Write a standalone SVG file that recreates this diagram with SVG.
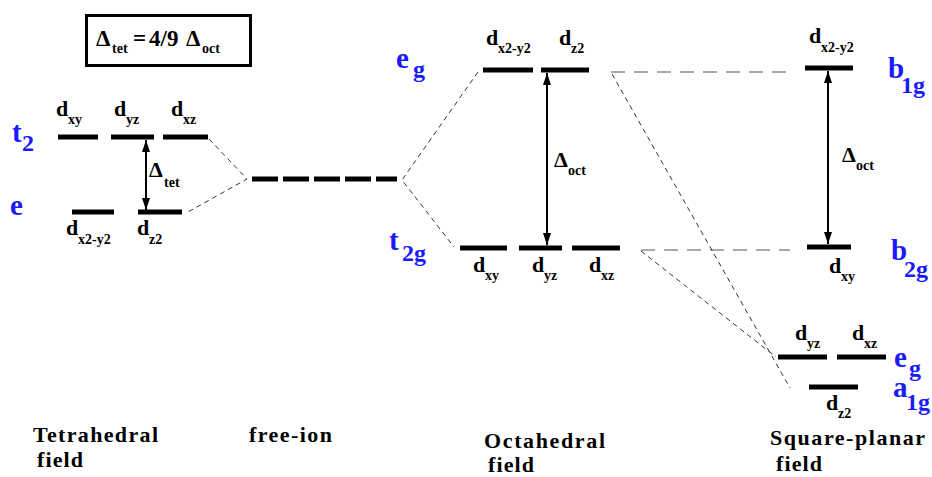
<svg xmlns="http://www.w3.org/2000/svg" width="932" height="477" viewBox="0 0 932 477" font-family="Liberation Serif, Times New Roman, serif" font-weight="bold">
<style>
.t{fill:#000}
.d{font-size:22px}
.s{font-size:14px}
.bl{fill:#1a1aff;font-size:29px}
.bs{font-size:24px}
.ttl{font-size:22px}
.bar{fill:#000}
.dl{stroke:#333;stroke-width:1;stroke-dasharray:5 4;fill:none}
.dl2{stroke:#555;stroke-width:1.2;stroke-dasharray:14 9;fill:none}
.arr{stroke:#000;stroke-width:2;fill:none;marker-start:url(#ah);marker-end:url(#ah)}
</style>
<defs>
<marker id="ah" viewBox="0 0 12 8" refX="12" refY="4" markerWidth="12" markerHeight="8" markerUnits="userSpaceOnUse" orient="auto-start-reverse">
<path d="M0,0 L12,4 L0,8 Z" fill="#000"/>
</marker>
</defs>
<rect width="932" height="477" fill="#fff"/>

<g id="formula-box">
<rect x="86.5" y="15.5" width="164" height="50" fill="none" stroke="#000" stroke-width="3"/>
<text class="t" font-size="23" y="46"><tspan x="96">Δ</tspan><tspan x="112" y="53" font-size="14">tet</tspan><tspan x="133" y="46">=</tspan><tspan x="149" y="46">4/9</tspan><tspan x="186" y="46">Δ</tspan><tspan x="202" y="53" font-size="14">oct</tspan></text>
</g>

<g id="connectors">
<path class="dl" d="M209,139 L247,179 L188,212"/>
<path class="dl" d="M478,72 L402,180 L454,247"/>
<path class="dl2" d="M611,72 L786,72"/>
<path class="dl2" d="M641,250 L790,250"/>
<path class="dl" d="M612,74 L790,388"/>
<path class="dl" d="M641,251 L776,357"/>
<line class="arr" x1="146" y1="140" x2="146" y2="210"/>
<line class="arr" x1="547" y1="73" x2="547" y2="245"/>
<line class="arr" x1="828" y1="71" x2="828" y2="244"/>
</g>

<g id="tetrahedral">
<rect class="bar" x="58" y="134.5" width="40" height="5"/>
<rect class="bar" x="111" y="134.5" width="43" height="5"/>
<rect class="bar" x="163" y="134.5" width="45" height="5"/>
<rect class="bar" x="72" y="209.5" width="42" height="5"/>
<rect class="bar" x="138" y="209.5" width="44" height="5"/>
<text class="t d" x="56" y="116">d<tspan class="s" x="68" y="124">xy</tspan></text>
<text class="t d" x="114" y="116">d<tspan class="s" x="126" y="124">yz</tspan></text>
<text class="t d" x="171" y="116">d<tspan class="s" x="183" y="124">xz</tspan></text>
<text class="t d" x="66" y="235">d<tspan class="s" x="78" y="244">x2-y2</tspan></text>
<text class="t d" x="137" y="235">d<tspan class="s" x="149" y="244">z2</tspan></text>
<text class="bl" x="12" y="142">t<tspan class="bs" x="22" y="151">2</tspan></text>
<text class="bl" x="10" y="215">e</text>
<text class="t d" x="149" y="177">Δ<tspan class="s" x="164" y="187">tet</tspan></text>
<text class="t ttl" x="33" y="442" textLength="125" lengthAdjust="spacing">Tetrahedral</text>
<text class="t ttl" x="37" y="467" textLength="46" lengthAdjust="spacing">field</text>
</g>

<g id="free-ion">
<line x1="252" y1="179" x2="397" y2="179" stroke="#000" stroke-width="5" stroke-dasharray="26 5"/>
<text class="t ttl" x="249" y="442" textLength="83" lengthAdjust="spacing">free-ion</text>
</g>

<g id="octahedral">
<rect class="bar" x="483" y="67.5" width="50" height="5"/>
<rect class="bar" x="541" y="67.5" width="48" height="5"/>
<rect class="bar" x="460" y="245.5" width="47" height="5"/>
<rect class="bar" x="519" y="245.5" width="43" height="5"/>
<rect class="bar" x="572" y="245.5" width="48" height="5"/>
<text class="t d" x="486" y="45">d<tspan class="s" x="498" y="53">x2-y2</tspan></text>
<text class="t d" x="559" y="45">d<tspan class="s" x="571" y="53">z2</tspan></text>
<text class="t d" x="473" y="272">d<tspan class="s" x="485" y="280">xy</tspan></text>
<text class="t d" x="532" y="272">d<tspan class="s" x="544" y="280">yz</tspan></text>
<text class="t d" x="589" y="272">d<tspan class="s" x="601" y="280">xz</tspan></text>
<text class="bl" x="396" y="68">e<tspan class="bs" x="413" y="77">g</tspan></text>
<text class="bl" x="389" y="250">t<tspan class="bs" x="402" y="261">2g</tspan></text>
<text class="t d" x="554" y="167">Δ<tspan class="s" x="568" y="175">oct</tspan></text>
<text class="t ttl" x="484" y="448" textLength="121" lengthAdjust="spacing">Octahedral</text>
<text class="t ttl" x="488" y="472" textLength="46" lengthAdjust="spacing">field</text>
</g>

<g id="square-planar">
<rect class="bar" x="805" y="65.5" width="48" height="5"/>
<rect class="bar" x="807" y="244.5" width="44" height="5"/>
<rect class="bar" x="778" y="354.5" width="49" height="5"/>
<rect class="bar" x="837" y="354.5" width="49" height="5"/>
<rect class="bar" x="809" y="384.5" width="49" height="5"/>
<text class="t d" x="809" y="43">d<tspan class="s" x="821" y="52">x2-y2</tspan></text>
<text class="t d" x="829" y="273">d<tspan class="s" x="841" y="281">xy</tspan></text>
<text class="t d" x="795" y="340">d<tspan class="s" x="807" y="348">yz</tspan></text>
<text class="t d" x="852" y="340">d<tspan class="s" x="864" y="348">xz</tspan></text>
<text class="t d" x="826" y="410">d<tspan class="s" x="838" y="418">z2</tspan></text>
<text class="bl" x="888" y="78">b<tspan class="bs" x="901" y="93">1g</tspan></text>
<text class="bl" x="891" y="260">b<tspan class="bs" x="904" y="277">2g</tspan></text>
<text class="bl" x="894" y="367">e<tspan class="bs" x="909" y="376">g</tspan></text>
<text class="bl" x="893" y="397">a<tspan class="bs" x="906" y="410">1g</tspan></text>
<text class="t d" x="842" y="162">Δ<tspan class="s" x="856" y="170">oct</tspan></text>
<text class="t ttl" x="770" y="445" textLength="155" lengthAdjust="spacing">Square-planar</text>
<text class="t ttl" x="776" y="471" textLength="46" lengthAdjust="spacing">field</text>
</g>
</svg>
